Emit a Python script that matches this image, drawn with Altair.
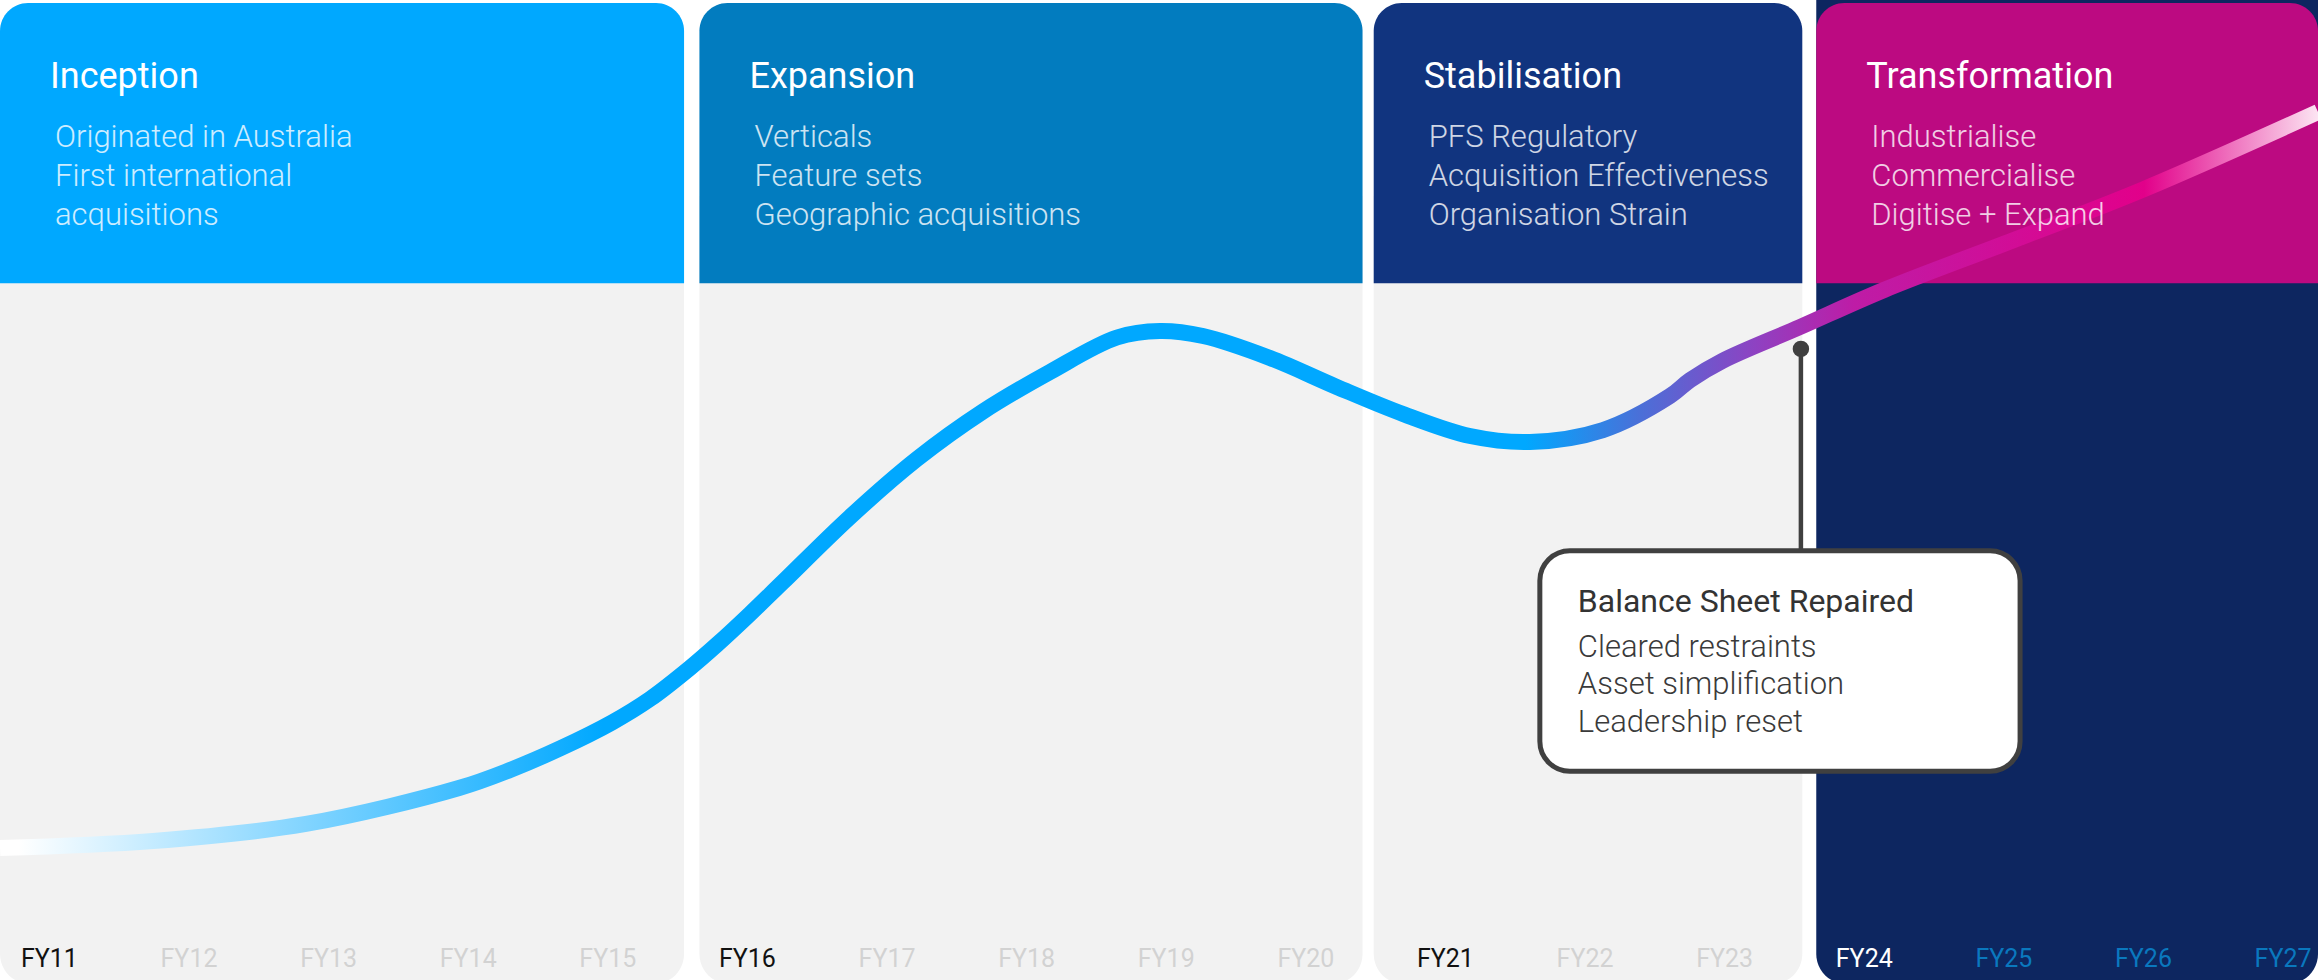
import altair as alt
import pandas as pd

# ---------------- data (x in fiscal-year units, FY11 = 11; y in a 0-100 index) ----------------
phase_names = ["Inception", "Expansion", "Stabilisation", "Transformation"]
phase_start = [10.85, 15.86, 20.69, 23.86]
phase_end = [15.75, 20.61, 23.76, 27.454]
phase_items = [
    "Originated in Australia\nFirst international\nacquisitions",
    "Verticals\nFeature sets\nGeographic acquisitions",
    "PFS Regulatory\nAcquisition Effectiveness\nOrganisation Strain",
    "Industrialise\nCommercialise\nDigitise + Expand",
]
header_top = [99.7, 99.7, 99.7, 99.7]
header_bottom = [71.1, 71.1, 71.1, 71.1]
body_top = [80.0, 80.0, 80.0, 100.0]
body_bottom = [-0.4, -0.4, -0.4, -0.4]

line_fy = [10.850, 11.946, 13.042, 14.138, 14.503, 14.868, 15.234, 15.506, 15.792,
           15.986, 16.222, 16.458, 16.938, 17.418, 17.891, 18.371, 18.851, 19.159,
           19.467, 19.947, 20.427, 20.900, 21.380, 21.809, 22.332, 22.812, 22.956,
           23.185, 23.744, 24.345, 25.276, 26.208, 27.454]
line_value = [13.47, 14.18, 15.92, 19.59, 21.43, 23.67, 26.28, 28.67, 31.84,
              34.23, 37.35, 40.61, 47.24, 53.16, 58.01, 62.04, 65.56, 66.22,
              65.71, 63.47, 60.51, 57.76, 55.51, 54.90, 56.12, 59.59, 61.22,
              63.16, 66.63, 70.41, 75.51, 80.71, 88.57]

fy_labels = ["FY11", "FY12", "FY13", "FY14", "FY15", "FY16", "FY17", "FY18", "FY19",
             "FY20", "FY21", "FY22", "FY23", "FY24", "FY25", "FY26", "FY27"]
fy_values = [11, 12, 13, 14, 15, 16, 17, 18, 19, 20, 21, 22, 23, 24, 25, 26, 27]
fy_status = ["phase start", "past", "past", "past", "past",
             "phase start", "past", "past", "past", "past",
             "phase start", "past", "past",
             "current", "future", "future", "future"]

note_title = ["Balance Sheet Repaired"]
note_items = ["Cleared restraints\nAsset simplification\nLeadership reset"]
note_fy = [23.75]
note_point = [64.4]
note_box_left = [21.88]
note_box_right = [25.32]
note_box_top = [43.8]
note_box_bottom = [21.3]

# ---------------- tables ----------------
phases = pd.DataFrame({
    "phase": phase_names, "start": phase_start, "end": phase_end,
    "items": phase_items, "htop": header_top, "hbottom": header_bottom,
    "btop": body_top, "bbottom": body_bottom,
})
curve = pd.DataFrame({"fy": line_fy, "value": line_value})
years = pd.DataFrame({"label": fy_labels, "fy": fy_values, "status": fy_status,
                      "base": [0] * len(fy_values)})
note = pd.DataFrame({
    "title": note_title, "items": note_items, "fy": note_fy, "point": note_point,
    "left": note_box_left, "right": note_box_right,
    "top": note_box_top, "bottom": note_box_bottom,
})

FONT = "Roboto"
x_scale = alt.Scale(domain=[10.85, 27.454], nice=False, zero=False)
y_scale = alt.Scale(domain=[0, 100], nice=False, zero=False)

body = alt.Chart(phases).mark_rect(
    cornerRadiusBottomLeft=30, cornerRadiusBottomRight=30
).encode(
    x=alt.X("start:Q", scale=x_scale, axis=None), x2="end:Q",
    y=alt.Y("btop:Q", scale=y_scale, axis=None), y2="bbottom:Q",
    color=alt.Color("phase:N", legend=None,
                    scale=alt.Scale(domain=phase_names,
                                    range=["#F2F2F2", "#F2F2F2", "#F2F2F2", "#0D2660"])),
)

header = alt.Chart(phases).mark_rect(
    cornerRadiusTopLeft=28, cornerRadiusTopRight=28
).encode(
    x=alt.X("start:Q", scale=x_scale, axis=None), x2="end:Q",
    y=alt.Y("htop:Q", scale=y_scale, axis=None), y2="hbottom:Q",
    color=alt.Color("phase:N", legend=None,
                    scale=alt.Scale(domain=phase_names,
                                    range=["#00A8FF", "#027CBF", "#11347F", "#BC0A81"])),
)

gradient = alt.LinearGradient(
    gradient="linear", x1=0, x2=1, y1=0, y2=0,
    stops=[
        alt.GradientStop(color="#FFFFFF", offset=0.0),
        alt.GradientStop(color="#FFFFFF", offset=0.008),
        alt.GradientStop(color="#00A8FF", offset=0.26),
        alt.GradientStop(color="#00A8FF", offset=0.658),
        alt.GradientStop(color="#4A70D8", offset=0.707),
        alt.GradientStop(color="#8E42C2", offset=0.757),
        alt.GradientStop(color="#BE1CA6", offset=0.80),
        alt.GradientStop(color="#E2008A", offset=0.925),
        alt.GradientStop(color="#FCE4F2", offset=1.0),
    ],
)

line = alt.Chart(curve).mark_line(
    interpolate="catmull-rom", strokeWidth=16, strokeCap="butt", stroke=gradient
).encode(
    x=alt.X("fy:Q", scale=x_scale, axis=None),
    y=alt.Y("value:Q", scale=y_scale, axis=None),
)

titles = alt.Chart(phases).mark_text(
    align="left", baseline="alphabetic", dx=50, dy=85, fontSize=36,
    font=FONT, fontWeight=400, color="white",
).encode(
    x=alt.X("start:Q", scale=x_scale, axis=None),
    y=alt.Y("htop:Q", scale=y_scale, axis=None),
    text="phase:N",
)

subtitles = alt.Chart(phases).mark_text(
    align="left", baseline="alphabetic", dx=55, dy=144, fontSize=31,
    font=FONT, fontWeight=300, color="white", opacity=0.8,
    lineBreak="\n", lineHeight=39,
).encode(
    x=alt.X("start:Q", scale=x_scale, axis=None),
    y=alt.Y("htop:Q", scale=y_scale, axis=None),
    text="items:N",
)

year_labels = alt.Chart(years).mark_text(
    align="left", baseline="alphabetic", dy=-13, fontSize=25, font=FONT, fontWeight=400,
).encode(
    x=alt.X("fy:Q", scale=x_scale, axis=None),
    y=alt.Y("base:Q", scale=y_scale, axis=None),
    text="label:N",
    color=alt.Color("status:N", legend=None,
                    scale=alt.Scale(domain=["phase start", "past", "current", "future"],
                                    range=["#111111", "#D2D2D2", "#FFFFFF", "#0A78BE"])),
)

connector = alt.Chart(note).mark_rule(strokeWidth=4.5, color="#404040").encode(
    x=alt.X("fy:Q", scale=x_scale, axis=None),
    y=alt.Y("point:Q", scale=y_scale, axis=None), y2="top:Q",
)

box = alt.Chart(note).mark_rect(
    fill="white", stroke="#404040", strokeWidth=5, cornerRadius=30
).encode(
    x=alt.X("left:Q", scale=x_scale, axis=None), x2="right:Q",
    y=alt.Y("top:Q", scale=y_scale, axis=None), y2="bottom:Q",
)

box_title = alt.Chart(note).mark_text(
    align="left", baseline="alphabetic", dx=38, dy=61, fontSize=32,
    font=FONT, fontWeight=400, color="#333333",
).encode(
    x=alt.X("left:Q", scale=x_scale, axis=None),
    y=alt.Y("top:Q", scale=y_scale, axis=None),
    text="title:N",
)

box_items = alt.Chart(note).mark_text(
    align="left", baseline="alphabetic", dx=38, dy=106, fontSize=31,
    font=FONT, fontWeight=300, color="#3A3A3A", lineBreak="\n", lineHeight=37.5,
).encode(
    x=alt.X("left:Q", scale=x_scale, axis=None),
    y=alt.Y("top:Q", scale=y_scale, axis=None),
    text="items:N",
)

dot = alt.Chart(note).mark_circle(size=270, color="#404040", opacity=1).encode(
    x=alt.X("fy:Q", scale=x_scale, axis=None),
    y=alt.Y("point:Q", scale=y_scale, axis=None),
)

chart = alt.layer(
    body, header, line, titles, subtitles, year_labels,
    connector, box, box_title, box_items, dot,
).resolve_scale(
    color="independent"
).properties(
    width=2318, height=980, padding=0, background="white",
    autosize=alt.AutoSizeParams(type="none", contains="padding"),
).configure_view(strokeWidth=0)

chart.save("out.html", embed_options={"renderer": "svg", "actions": False})
